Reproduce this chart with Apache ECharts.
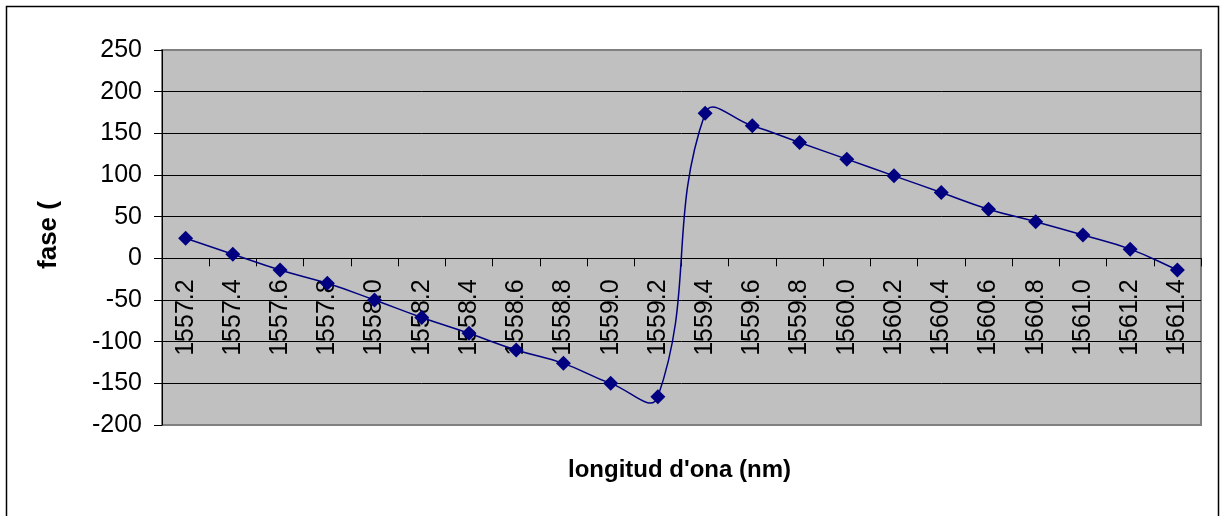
<!DOCTYPE html>
<html>
<head>
<meta charset="utf-8">
<script src="https://cdn.jsdelivr.net/npm/echarts@6/dist/echarts.min.js"></script>
<style>
html,body{margin:0;padding:0;background:#fff;}
#c{width:1220px;height:516px;}
</style>
</head>
<body>
<div id="c"></div>
<script>
const categories = ['1557.2','1557.4','1557.6','1557.8','1558.0','1558.2','1558.4','1558.6','1558.8','1559.0','1559.2','1559.4','1559.6','1559.8','1560.0','1560.2','1560.4','1560.6','1560.8','1561.0','1561.2','1561.4'];
const phaseValues = [24, 5, -14, -30, -50, -71, -90, -110, -126, -150, -166, 174, 159, 139, 119, 99, 79, 59, 44, 28, 11, -14];
const yTicks = {min: -200, max: 250, step: 50};
const xTitle = "longitud d'ona (nm)";
const yTitle = 'fase (';

const GRID = {left: 162, right: 19, top: 50, bottom: 91};
const plotH = 516 - GRID.top - GRID.bottom;
// x axis sits on the zero line
const zeroOffset = -plotH * (0 - yTicks.min) / (yTicks.max - yTicks.min);

const chart = echarts.init(document.getElementById('c'), null, {renderer: 'canvas'});
const FONT = 'Liberation Sans, Arial, sans-serif';
const LINE_COLOR = '#000080';
const K = 0.45;

function smoothSegment(params, api) {
  const i = params.dataIndex;
  const n = phaseValues.length;
  if (i >= n - 1) return null;
  const P = (j) => api.coord([Math.max(0, Math.min(n - 1, j)), phaseValues[Math.max(0, Math.min(n - 1, j))]]);
  const p0 = P(i - 1), p1 = P(i), p2 = P(i + 1), p3 = P(i + 2);
  const d = (a, b) => Math.hypot(b[0] - a[0], b[1] - a[1]);
  const d01 = d(p0, p1), d12 = d(p1, p2), d23 = d(p2, p3);
  const s1 = (d01 + d12) > 0 ? K * d12 / (d01 + d12) : 0;
  const s2 = (d12 + d23) > 0 ? K * d12 / (d12 + d23) : 0;
  const c1 = [p1[0] + (p2[0] - p0[0]) * s1, p1[1] + (p2[1] - p0[1]) * s1];
  const c2 = [p2[0] - (p3[0] - p1[0]) * s2, p2[1] - (p3[1] - p1[1]) * s2];
  return {
    type: 'bezierCurve',
    shape: {x1: p1[0], y1: p1[1], x2: p2[0], y2: p2[1], cpx1: c1[0], cpy1: c1[1], cpx2: c2[0], cpy2: c2[1]},
    style: {stroke: LINE_COLOR, fill: null, lineWidth: 1.5}
  };
}

chart.setOption({
  animation: false,
  backgroundColor: '#ffffff',
  grid: Object.assign({
    show: true, backgroundColor: '#c0c0c0', borderColor: '#808080', borderWidth: 2
  }, GRID),
  xAxis: {
    type: 'category',
    data: categories,
    boundaryGap: true,
    position: 'bottom',
    offset: zeroOffset,
    axisLine: {onZero: false, lineStyle: {color: '#000', width: 1}},
    axisTick: {show: true, inside: false, length: 8, lineStyle: {color: '#000'}},
    axisLabel: {rotate: 90, fontSize: 25, color: '#000', fontFamily: FONT, margin: 21, interval: 0},
    splitLine: {show: false}
  },
  yAxis: {
    type: 'value',
    min: yTicks.min, max: yTicks.max, interval: yTicks.step,
    axisLine: {show: true, lineStyle: {color: '#000', width: 1}},
    axisTick: {show: true, inside: false, length: 8, lineStyle: {color: '#000'}},
    axisLabel: {fontSize: 25, color: '#000', fontFamily: FONT, margin: 20},
    splitLine: {show: true, showMinLine: false, showMaxLine: false, lineStyle: {color: '#000', width: 1}}
  },
  series: [{
    type: 'custom',
    data: phaseValues.map((v, i) => [i, v]),
    encode: {x: 0, y: 1},
    renderItem: smoothSegment,
    z: 2
  }, {
    type: 'line',
    data: phaseValues,
    symbol: 'diamond',
    symbolSize: 15,
    itemStyle: {color: LINE_COLOR},
    lineStyle: {width: 0, opacity: 0},
    z: 3
  }],
  graphic: [
    {type: 'rect', shape: {x: 6.5, y: 6.5, width: 1212, height: 520}, style: {fill: 'none', stroke: '#000', lineWidth: 1.5}, silent: true},
    {type: 'text', x: 568, y: 470, style: {text: xTitle, font: 'bold 24px ' + FONT, fill: '#000', align: 'left', verticalAlign: 'middle'}},
    {type: 'text', x: 49, y: 235, rotation: Math.PI / 2, style: {text: yTitle, font: 'bold 26px ' + FONT, fill: '#000', align: 'center', verticalAlign: 'middle'}}
  ]
});
</script>
</body>
</html>
